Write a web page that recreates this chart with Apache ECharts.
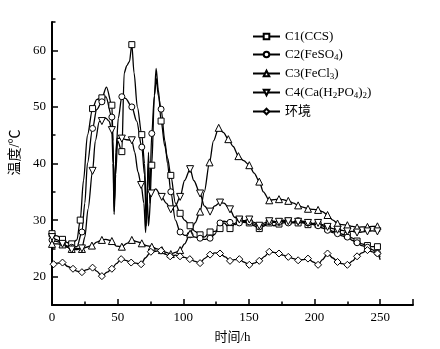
<!DOCTYPE html>
<html><head><meta charset="utf-8">
<script src="https://cdn.jsdelivr.net/npm/echarts@6/dist/echarts.min.js"></script>
<style>html,body{margin:0;padding:0;background:#fff}#c{width:440px;height:349px}</style>
</head><body><div id="c"></div>
<script>
// time (h), temperature (°C)
const c1 = [[0,27.6],[4,27.2],[8,26.6],[12,26.0],[15,25.8],[19,26.5],[21.5,30],[24,37],[27,45],[30.9,49.7],[34,51.3],[38,51.6],[41.5,53.5],[45.6,50.3],[46.5,44],[47.3,31],[48.5,38],[50,44],[53.2,42.1],[55,56],[57,57.3],[59,58],[60.8,61],[62.5,56],[65,50],[68.4,45.1],[70.5,40],[72,30],[73.5,42],[74.5,33],[76,39.7],[78,52],[79.3,56.8],[81,53],[83.1,47.5],[86,43],[88,41],[90.5,37.9],[94,33],[97.6,31.2],[101,30],[105.2,29],[109,28],[112.8,27.4],[116,27],[120.4,27.9],[124,28],[128,28.5],[131,29.5],[135.6,28.5],[140,29.5],[142.7,30],[146,29.6],[150.3,29.5],[154,29],[157.9,28.5],[162,29],[165.5,29.5],[169,29],[172.9,29.3],[176,29.5],[180,29.8],[184,29.5],[187.5,29.5],[191,29.5],[195,29.2],[199,29.3],[202.7,29.2],[206,29],[209.9,28.5],[214,28],[217.5,28],[221,27.5],[225,27.3],[229,26.8],[232.4,26.3],[236,25.8],[240.3,25.5],[244,25.3],[247.9,25.3],[250,25]];
const c2 = [[0,26.5],[4,26.2],[8,25.8],[12,25.4],[15,25.2],[19,25.3],[22.8,27.9],[25,33],[27,40],[30.9,46.2],[34,49.5],[38,50.9],[41,51.8],[45.6,48.2],[46.8,40],[47.5,33],[48.8,42],[50.5,48],[53.2,51.8],[56,51.5],[60.8,50],[64.5,47.5],[68.4,42.9],[70.5,38],[71.8,29],[73.3,40],[74.5,35],[76,45.3],[78,52],[79.5,55],[81,52],[83.1,49.6],[86,44],[88,40],[90.5,35],[94,30],[97.6,27.9],[101,27.3],[105.2,27.4],[109,27],[112.8,26.8],[116,26.6],[120.4,26.8],[124,27.5],[128,29.5],[131,29.8],[135.6,29.6],[140,29.2],[142.7,29.5],[146,29.8],[150.3,29.7],[154,29.3],[157.9,28.8],[162,29.2],[165.5,29.7],[169,29.8],[172.9,29.6],[176,29.8],[180,29.5],[184,29.7],[187.5,29.9],[191,29.6],[195,29.5],[199,29.2],[202.7,29],[206,28.6],[209.9,28.2],[214,27.8],[217.5,27.6],[221,27.2],[225,27],[229,26.4],[232.4,26],[236,25.5],[240.3,25.2],[244,24.8],[247.9,24.2],[250,23.5]];
const c3 = [[0,25.8],[4,25.8],[8,25.7],[12,25.2],[15,24.9],[19,25],[22.8,24.9],[26,25.2],[30.4,25.5],[34,26.1],[38,26.5],[41,26.6],[45.6,26.3],[49,25.4],[53.2,25.3],[57,25.9],[60.8,26.5],[64.5,26.2],[68.4,25.9],[72,25.5],[76,25.3],[80,24.9],[83.7,24.7],[87,24.3],[90.5,24],[94,24.3],[97.6,24.7],[101,25.8],[105.2,27.6],[109,29.5],[112.8,31.5],[116,35],[120,40.2],[123,44],[127,46.3],[130.5,45.5],[134.3,44.3],[138,43],[142,41.3],[146,40.5],[150.3,39.7],[154,38.3],[157.9,36.8],[161,35],[165.5,33.5],[169,33.6],[172.9,33.7],[176,33.6],[180,33.4],[184,33],[187.5,32.6],[191,32.3],[195,32],[199,31.9],[202.7,31.8],[206,31.5],[209.9,30.9],[214,30],[217.5,29.4],[221,29.2],[225,29.1],[229,28.9],[232.4,28.7],[236,28.8],[240.3,28.8],[244,28.9],[247.9,28.9],[250,28.5]];
const c4 = [[0,27],[4,26.5],[8,25.8],[12,25.2],[15,24.8],[19,24.8],[22.8,25],[25,27],[27.5,32],[30.9,38.7],[33,44],[36,47.4],[38,47.5],[41,48],[43.5,47.5],[45.6,45.9],[46.5,40],[47.3,31.5],[48.3,40],[49.5,44.5],[53.2,44.4],[57,44.2],[60.8,44.1],[63,42],[65.5,38.5],[67.9,36.2],[70,33],[71.3,27.8],[72.5,34],[73.5,29],[75.5,34.7],[79,35.5],[83.6,34.1],[87,33],[90.5,31.9],[94,32.5],[97.6,34.1],[101,37],[105.2,39],[108,37],[112.8,34.7],[116,32.5],[120.4,31.5],[124,32.5],[128,33.1],[131,33],[135.6,31.9],[139,30.5],[142.7,30.1],[146,29.9],[150.3,30.1],[154,29.6],[157.9,29],[162,29.5],[165.5,29.8],[169,29.6],[172.9,29.7],[176,30],[180,29.8],[184,29.6],[187.5,29.7],[191,29.8],[195,29.5],[199,29.4],[202.7,29.5],[206,29.2],[209.9,28.8],[214,28.5],[217.5,28.3],[221,28.2],[225,28],[229,28],[232.4,27.8],[236,27.9],[240.3,28],[244,28.1],[247.9,28],[250,28]];
const env = [[1.2,22.2],[4,22.4],[8,22.5],[12,21.8],[16,21.4],[19,21],[22.8,20.8],[26,21.2],[30.9,21.6],[34,21],[38,20.1],[42,20.8],[45.6,21.4],[49,22.3],[52.7,23.1],[56,22.9],[60.3,22.5],[64,22.4],[67.9,22.2],[71,23.3],[75.3,24.4],[79,24.5],[83,24.6],[86,24],[90,23.6],[94,23.8],[97.5,23.6],[101,23.4],[105,23.1],[109,22.7],[112.8,22.4],[116,23.2],[120.4,23.9],[124,24.2],[128,24.1],[132,23.5],[135.6,22.8],[139,23],[142.7,23.1],[146,22.6],[150.3,22.1],[154,22.4],[157.9,22.8],[162,23.6],[165.5,24.4],[169,24.3],[172.9,24.1],[176,23.8],[180,23.5],[184,23.2],[187.5,22.9],[191,23],[195,23.2],[199,22.6],[202.7,22.1],[206,23],[209.9,24.1],[214,23.3],[217.5,22.6],[221,22.3],[225,22.1],[229,22.8],[232.4,23.6],[236,24.2],[240.3,24.7],[244,24.4],[247.9,24.1],[250,23]];
const seriesNames = ['C1(CCS)','C2(FeSO4)','C3(FeCl3)','C4(Ca(H2PO4)2)','环境'];
const xLabels = [0,50,100,150,200,250];
const yLabels = [20,30,40,50,60];

const serif = '"Liberation Serif","Times New Roman","Noto Sans CJK SC",serif';
const symbols = ['rect','circle','triangle','path://M0,0L10,0L5,9Z','diamond'];
const sizes = [6,6,7,7,7];
const datasets = [c1,c2,c3,c4,env];

function withMarkers(arr){
  let last = -1e9;
  return arr.map(p => {
    if (p[0] - last >= 6.5) { last = p[0]; return {value:p}; }
    return {value:p, symbol:'none'};
  });
}
const legendRich = {
  n:{fontFamily:serif,fontSize:13,color:'#000'},
  s:{fontFamily:serif,fontSize:9,color:'#000',verticalAlign:'bottom',padding:[6,0,0,0]}
};
function fmtName(name){
  const head = name.slice(0,2);
  let rest = name.slice(2);
  if (!/^C\d$/.test(head)) return '{n|'+name+'}';
  let out = '{n|'+head+'}';
  rest.replace(/(\d+)|([^\d]+)/g,(m,d,t)=>{ out += d ? '{s|'+d+'}' : '{n|'+t+'}'; return m;});
  return out;
}

const chart = echarts.init(document.getElementById('c'), null, {renderer:'canvas'});
const axisCommon = {
  axisLine:{show:true,lineStyle:{color:'#000',width:2}},
  splitLine:{show:false}
};
chart.setOption({
  animation:false,
  backgroundColor:'#fff',
  grid:{left:52,right:27,top:22,bottom:44},
  legend:{
    orient:'vertical', left:247, top:25, itemWidth:27, itemHeight:7, itemGap:5,
    data:seriesNames, formatter:fmtName,
    textStyle:{fontFamily:serif,fontSize:13,color:'#000',rich:legendRich},
    inactiveColor:'#000'
  },
  xAxis:[{
    type:'value', min:0, max:275, interval:25,
    ...axisCommon,
    name:'时间/h', nameLocation:'middle', nameGap:26,
    nameTextStyle:{fontFamily:serif,fontSize:13,color:'#000'},
    axisTick:{inside:true,length:6,lineStyle:{color:'#000',width:1.5},customValues:[0,50,100,150,200,250,275]},
    axisLabel:{fontFamily:serif,fontSize:13,color:'#000',margin:6,customValues:xLabels}
  },{
    type:'value', min:0, max:275, interval:25, position:'bottom',
    axisLine:{show:false}, splitLine:{show:false}, axisLabel:{show:false},
    axisTick:{inside:true,length:3.5,lineStyle:{color:'#000',width:1.5},customValues:[25,75,125,175,225]}
  }],
  yAxis:[{
    type:'value', min:15, max:65, interval:5,
    ...axisCommon,
    name:'温度/℃', nameLocation:'middle', nameGap:29, nameRotate:90,
    nameTextStyle:{fontFamily:serif,fontSize:14,color:'#000',padding:[0,0,0,22]},
    axisTick:{inside:true,length:6,lineStyle:{color:'#000',width:1.5},customValues:yLabels},
    axisLabel:{fontFamily:serif,fontSize:13,color:'#000',margin:6,customValues:yLabels}
  },{
    type:'value', min:15, max:65, interval:5, position:'left',
    axisLine:{show:false}, splitLine:{show:false}, axisLabel:{show:false},
    axisTick:{inside:true,length:3.5,lineStyle:{color:'#000',width:1.5},customValues:[25,35,45,55,65]}
  }],
  series: datasets.map((d,i)=>({
    name:seriesNames[i], type:'line', xAxisIndex:0, yAxisIndex:0,
    data:withMarkers(d), smooth:0.3, smoothMonotone:'x',
    symbol:symbols[i], symbolSize:sizes[i], showAllSymbol:true,
    lineStyle:{color:'#000',width:1.3},
    itemStyle:{color:'#fff',borderColor:'#000',borderWidth:1},
    emphasis:{disabled:true}
  }))
});
</script></body></html>
